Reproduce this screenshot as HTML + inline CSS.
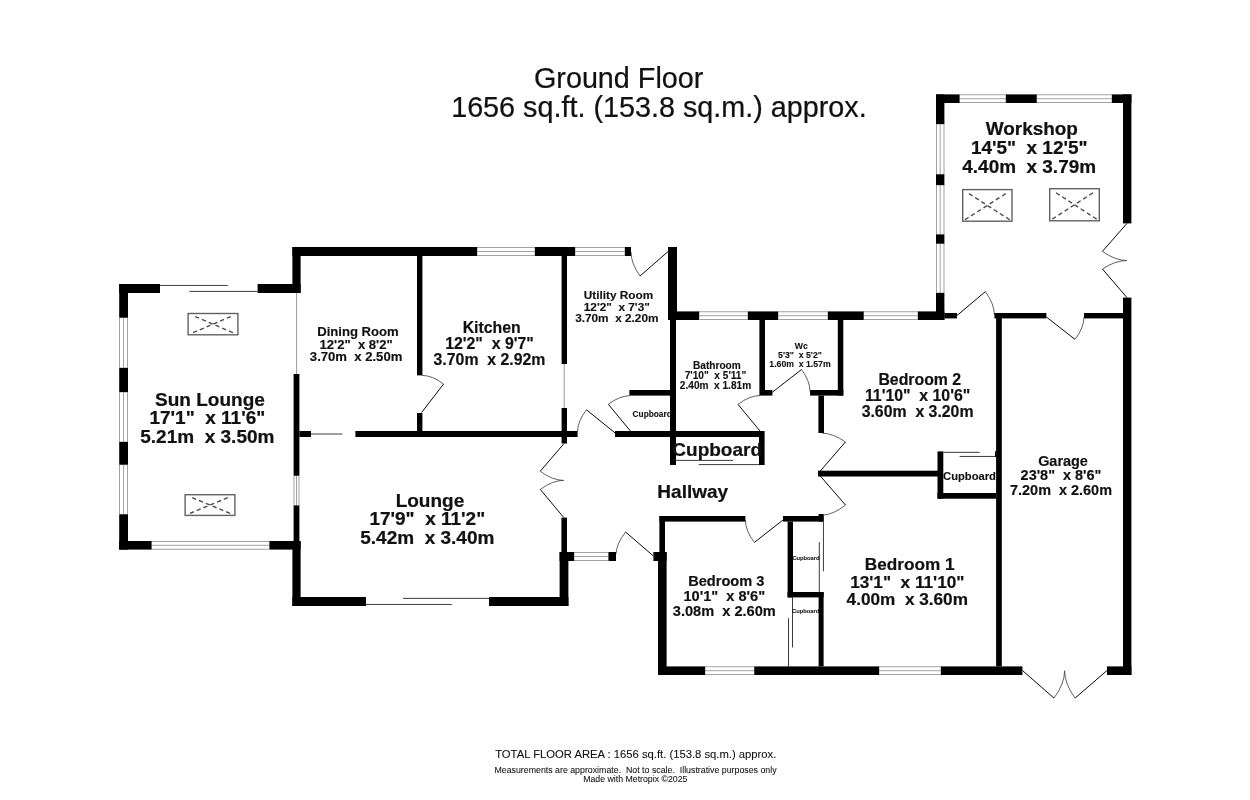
<!DOCTYPE html>
<html lang="en"><head><meta charset="utf-8"><title>Ground Floor - Floor Plan</title>
<style>
html,body{margin:0;padding:0;background:#fff;}
body{width:1250px;height:800px;overflow:hidden;}
svg{display:block;will-change:transform;}
text{font-family:"Liberation Sans",Arial,Helvetica,sans-serif;fill:#111;text-anchor:middle;white-space:pre;}
.w{fill:#000;}
.win{fill:#fff;stroke:#8a8a8a;stroke-width:0.8;}
.wl{stroke:#8a8a8a;stroke-width:0.8;fill:none;}
.t{stroke:#262626;stroke-width:0.9;fill:none;}
.g{stroke:#999;stroke-width:1;fill:none;}
.d{stroke:#0a0a0a;stroke-width:1;fill:none;}
.da{stroke:#444;stroke-width:0.85;fill:none;}
.sk{stroke:#626262;stroke-width:1.4;fill:#fff;}
.skx{stroke:#4c4c4c;stroke-width:1.4;fill:none;stroke-dasharray:4.3 3.05;}
</style></head><body>
<svg width="1250" height="800" viewBox="0 0 1250 800">
<rect x="0" y="0" width="1250" height="800" fill="#fff"/>
<g id="windows">
<rect class="win" x="151.4" y="541.4" width="118.2" height="7.8"/>
<line class="wl" x1="151.4" y1="545.3" x2="269.6" y2="545.3"/>
<rect class="win" x="477" y="247.4" width="58" height="8.2"/>
<line class="wl" x1="477" y1="251.5" x2="535" y2="251.5"/>
<rect class="win" x="575" y="247.4" width="50" height="8.2"/>
<line class="wl" x1="575" y1="251.5" x2="625" y2="251.5"/>
<rect class="win" x="574" y="552.4" width="34.6" height="8.2"/>
<line class="wl" x1="574" y1="556.5" x2="608.6" y2="556.5"/>
<rect class="win" x="699" y="311.8" width="49" height="7.8"/>
<line class="wl" x1="699" y1="315.7" x2="748" y2="315.7"/>
<rect class="win" x="778" y="311.8" width="50" height="7.8"/>
<line class="wl" x1="778" y1="315.7" x2="828" y2="315.7"/>
<rect class="win" x="863.6" y="311.8" width="54.4" height="7.8"/>
<line class="wl" x1="863.6" y1="315.7" x2="918" y2="315.7"/>
<rect class="win" x="705" y="666.8" width="49.4" height="7.8"/>
<line class="wl" x1="705" y1="670.7" x2="754.4" y2="670.7"/>
<rect class="win" x="879" y="666.8" width="62" height="7.8"/>
<line class="wl" x1="879" y1="670.7" x2="941" y2="670.7"/>
<rect class="win" x="959.4" y="94.8" width="46.6" height="7.8"/>
<line class="wl" x1="959.4" y1="98.7" x2="1006" y2="98.7"/>
<rect class="win" x="1036.6" y="94.8" width="75.4" height="7.8"/>
<line class="wl" x1="1036.6" y1="98.7" x2="1112" y2="98.7"/>
<rect class="win" x="119.6" y="317.6" width="8" height="50.4"/>
<line class="wl" x1="123.6" y1="317.6" x2="123.6" y2="368"/>
<rect class="win" x="119.6" y="392" width="8" height="50"/>
<line class="wl" x1="123.6" y1="392" x2="123.6" y2="442"/>
<rect class="win" x="119.6" y="464.6" width="8" height="49.8"/>
<line class="wl" x1="123.6" y1="464.6" x2="123.6" y2="514.4"/>
<rect class="win" x="294" y="475.6" width="5" height="30"/>
<line class="wl" x1="296.5" y1="475.6" x2="296.5" y2="505.6"/>
<rect class="win" x="936.4" y="124" width="7.6" height="50.4"/>
<line class="wl" x1="940.2" y1="124" x2="940.2" y2="174.4"/>
<rect class="win" x="936.4" y="185" width="7.6" height="49.6"/>
<line class="wl" x1="940.2" y1="185" x2="940.2" y2="234.6"/>
<rect class="win" x="936.4" y="243.6" width="7.6" height="49.4"/>
<line class="wl" x1="940.2" y1="243.6" x2="940.2" y2="293"/>
</g>
<g id="lines">
<line class="g" x1="296.6" y1="293" x2="296.6" y2="374"/>
<line class="g" x1="564.2" y1="364" x2="564.2" y2="408"/>
<line class="t" x1="160" y1="285.45" x2="227.8" y2="285.45"/>
<line class="t" x1="189.4" y1="291.4" x2="257.6" y2="291.4"/>
<line class="t" x1="403.1" y1="598.4" x2="489" y2="598.4"/>
<line class="t" x1="366" y1="604.45" x2="451.8" y2="604.45"/>
<line class="t" x1="676" y1="460.4" x2="733" y2="460.4"/>
<line class="t" x1="698.7" y1="464.6" x2="759.3" y2="464.6"/>
<line class="t" x1="943.3" y1="452.35" x2="979.6" y2="452.35"/>
<line class="t" x1="959.6" y1="456.45" x2="996" y2="456.45"/>
<line class="t" x1="823.45" y1="521.6" x2="823.45" y2="571.3"/>
<line class="t" x1="819.3" y1="542.1" x2="819.3" y2="592"/>
<line class="t" x1="792.5" y1="597.4" x2="792.5" y2="647.5"/>
<line class="t" x1="788.5" y1="618.1" x2="788.5" y2="666.4"/>
<line class="t" x1="311" y1="434" x2="342.4" y2="434"/>
</g>
<g id="doors">
<path class="da" d="M443.6 384Q432.41 375.51 422 375.4"/>
<path class="d" d="M421.6 412.5L443.6 384"/>
<path class="da" d="M540.25 471.25Q552.46 480.38 563.75 480.4"/>
<path class="d" d="M563.8 443.8L540.25 471.25"/>
<path class="da" d="M540.25 489.4Q552.49 480.35 563.75 480.4"/>
<path class="d" d="M563.6 517.3L540.25 489.4"/>
<path class="da" d="M586.5 409.8Q578 420.75 577.5 431.2"/>
<path class="d" d="M615.2 433L586.5 409.8"/>
<path class="da" d="M608.3 404.3Q619.54 395.82 630 395.7"/>
<path class="d" d="M630.4 431L608.3 404.3"/>
<path class="da" d="M640 276Q631.13 263.57 631 252"/>
<path class="d" d="M668 251.6L640 276"/>
<path class="da" d="M625.6 532Q616.58 543.22 616 554"/>
<path class="d" d="M653.4 556L625.6 532"/>
<path class="da" d="M738 404.4Q749.44 395.6 760 395.6"/>
<path class="d" d="M760 431L738 404.4"/>
<path class="da" d="M801.5 369.5Q809.9 380.87 810.1 391.5"/>
<path class="d" d="M772.4 392.2L801.5 369.5"/>
<path class="da" d="M845.4 442Q833.4 433.51 822 433"/>
<path class="d" d="M820.3 471L845.4 442"/>
<path class="da" d="M845.5 505Q833.47 514.7 822 515.2"/>
<path class="d" d="M820.3 476L845.5 505"/>
<path class="da" d="M754.4 542.4Q745.4 530.75 745.4 520"/>
<path class="d" d="M783 520L754.4 542.4"/>
<path class="da" d="M985.4 291.6Q994.25 303.71 994.4 315"/>
<path class="d" d="M957 315.5L985.4 291.6"/>
<path class="da" d="M1075 339.4Q1084 327.75 1084 317"/>
<path class="d" d="M1046.4 317L1075 339.4"/>
<path class="da" d="M1102.4 251.4Q1115.19 260.5 1127 260.5"/>
<path class="d" d="M1127 223.4L1102.4 251.4"/>
<path class="da" d="M1102.4 269Q1115.19 260.5 1127 260.5"/>
<path class="d" d="M1127 297.6L1102.4 269"/>
<path class="da" d="M1054 698.1Q1064.48 683.95 1064.6 670.8"/>
<path class="d" d="M1022.3 670.4L1054 698.1"/>
<path class="da" d="M1075.1 698.1Q1064.66 683.93 1064.6 670.8"/>
<path class="d" d="M1106.9 670.6L1075.1 698.1"/>
</g>
<g id="skylights">
<rect class="sk" x="188.1" y="313.5" width="49.8" height="21.3"/>
<line class="skx" x1="195.18" y1="316.53" x2="232.92" y2="332.67"/>
<line class="skx" x1="230.82" y1="316.53" x2="193.08" y2="332.67"/>
<rect class="sk" x="185.1" y="494.7" width="49.8" height="20.7"/>
<line class="skx" x1="192.21" y1="497.66" x2="230.12" y2="513.41"/>
<line class="skx" x1="227.79" y1="497.66" x2="189.88" y2="513.41"/>
<rect class="sk" x="962.7" y="189.6" width="49.3" height="31.6"/>
<line class="skx" x1="969.01" y1="193.65" x2="1009.76" y2="219.77"/>
<line class="skx" x1="1005.69" y1="193.65" x2="964.94" y2="219.77"/>
<rect class="sk" x="1049.7" y="188.7" width="49.6" height="32.1"/>
<line class="skx" x1="1056" y1="192.77" x2="1096.63" y2="219.07"/>
<line class="skx" x1="1093" y1="192.77" x2="1052.37" y2="219.07"/>
</g>
<g id="walls">
<rect class="w" x="119.2" y="284" width="40.8" height="9"/>
<rect class="w" x="257.6" y="284" width="43" height="9"/>
<rect class="w" x="119.2" y="284" width="8.8" height="33.6"/>
<rect class="w" x="119.2" y="368" width="8.8" height="24"/>
<rect class="w" x="119.2" y="442" width="8.8" height="22.6"/>
<rect class="w" x="119.2" y="514.4" width="8.8" height="35.2"/>
<rect class="w" x="119.2" y="541" width="32.2" height="8.6"/>
<rect class="w" x="269.6" y="541" width="31" height="8.6"/>
<rect class="w" x="293.6" y="374" width="5.8" height="101.6"/>
<rect class="w" x="293.6" y="505.6" width="5.8" height="35.4"/>
<rect class="w" x="299.4" y="431" width="11.6" height="6"/>
<rect class="w" x="292.4" y="247" width="184.6" height="9"/>
<rect class="w" x="535" y="247" width="40" height="9"/>
<rect class="w" x="625" y="247" width="6" height="9"/>
<rect class="w" x="292.4" y="247" width="8.2" height="46"/>
<rect class="w" x="668" y="247" width="9" height="73"/>
<rect class="w" x="417" y="256" width="5.4" height="119.4"/>
<rect class="w" x="417" y="413" width="5.4" height="18"/>
<rect class="w" x="561.6" y="256" width="5.4" height="108"/>
<rect class="w" x="561.6" y="408" width="5.4" height="35.5"/>
<rect class="w" x="355.4" y="431" width="222.2" height="6"/>
<rect class="w" x="615" y="431" width="149.6" height="6"/>
<rect class="w" x="292.4" y="541" width="8.2" height="65"/>
<rect class="w" x="292.4" y="597" width="73.6" height="9"/>
<rect class="w" x="489" y="597" width="79.4" height="9"/>
<rect class="w" x="559.6" y="552" width="8.8" height="54"/>
<rect class="w" x="561.4" y="517.6" width="5.6" height="34.4"/>
<rect class="w" x="559.6" y="552" width="14.4" height="9"/>
<rect class="w" x="608.6" y="552" width="7.4" height="9"/>
<rect class="w" x="653.4" y="552" width="13.2" height="9"/>
<rect class="w" x="668" y="311.4" width="31" height="8.6"/>
<rect class="w" x="748" y="311.4" width="30" height="8.6"/>
<rect class="w" x="828" y="311.4" width="35.6" height="8.6"/>
<rect class="w" x="918" y="311.4" width="26.4" height="8.6"/>
<rect class="w" x="944.4" y="313" width="12.6" height="5.4"/>
<rect class="w" x="670" y="320" width="6" height="145"/>
<rect class="w" x="629.4" y="390" width="40.6" height="5.6"/>
<rect class="w" x="759.4" y="320" width="5.6" height="75.6"/>
<rect class="w" x="765" y="390" width="7.4" height="5.6"/>
<rect class="w" x="837.8" y="320" width="5.5" height="75.6"/>
<rect class="w" x="810.1" y="390" width="33.2" height="5.6"/>
<rect class="w" x="818.4" y="395.6" width="5.6" height="37.4"/>
<rect class="w" x="759" y="437" width="5.6" height="28"/>
<rect class="w" x="818" y="470.7" width="120" height="5.8"/>
<rect class="w" x="937.5" y="451.4" width="5.8" height="47.3"/>
<rect class="w" x="937.5" y="493" width="58.5" height="5.7"/>
<rect class="w" x="995" y="451.2" width="1.2" height="5.8"/>
<rect class="w" x="659.4" y="516" width="86" height="5.6"/>
<rect class="w" x="783" y="516" width="40.6" height="5.6"/>
<rect class="w" x="818.6" y="514" width="5" height="7.6"/>
<rect class="w" x="659.4" y="516" width="5.6" height="36"/>
<rect class="w" x="658" y="552" width="8.6" height="123"/>
<rect class="w" x="787.6" y="521.6" width="5.4" height="75.8"/>
<rect class="w" x="787.6" y="592" width="36" height="5.4"/>
<rect class="w" x="818.6" y="592" width="5" height="74.4"/>
<rect class="w" x="658" y="666.4" width="47" height="8.6"/>
<rect class="w" x="754.4" y="666.4" width="124.6" height="8.6"/>
<rect class="w" x="941" y="666.4" width="81.4" height="8.6"/>
<rect class="w" x="1107" y="666.4" width="24.4" height="8.6"/>
<rect class="w" x="996.1" y="313" width="5.7" height="353.4"/>
<rect class="w" x="994.4" y="313" width="52" height="5.4"/>
<rect class="w" x="1084" y="313" width="39" height="5.4"/>
<rect class="w" x="1123" y="297.6" width="8.4" height="377.4"/>
<rect class="w" x="936" y="94.4" width="23.4" height="8.6"/>
<rect class="w" x="1006" y="94.4" width="30.6" height="8.6"/>
<rect class="w" x="1112" y="94.4" width="19.4" height="8.6"/>
<rect class="w" x="936" y="94.4" width="8.4" height="29.6"/>
<rect class="w" x="936" y="174.4" width="8.4" height="10.6"/>
<rect class="w" x="936" y="234.6" width="8.4" height="9"/>
<rect class="w" x="936" y="293" width="8.4" height="27"/>
<rect class="w" x="1123" y="94.4" width="8.4" height="129"/>
</g>
<g id="labels">
<text x="209.99" y="405.7" font-size="19" font-weight="bold" stroke="#111" stroke-width="0.23" xml:space="preserve">Sun Lounge</text>
<text x="207.35" y="424.45" font-size="19" font-weight="bold" stroke="#111" stroke-width="0.23" xml:space="preserve">17'1&quot;  x 11'6&quot;</text>
<text x="207.35" y="443.1" font-size="19" font-weight="bold" stroke="#111" stroke-width="0.23" xml:space="preserve">5.21m  x 3.50m</text>
<text x="357.92" y="335.7" font-size="13.1" font-weight="bold" stroke="#111" stroke-width="0.16" xml:space="preserve">Dining Room</text>
<text x="356.1" y="348.5" font-size="13.1" font-weight="bold" stroke="#111" stroke-width="0.16" xml:space="preserve">12'2&quot;  x 8'2&quot;</text>
<text x="356.1" y="361.4" font-size="13.1" font-weight="bold" stroke="#111" stroke-width="0.16" xml:space="preserve">3.70m  x 2.50m</text>
<text x="491.7" y="333.4" font-size="15.85" font-weight="bold" stroke="#111" stroke-width="0.19" xml:space="preserve">Kitchen</text>
<text x="489.5" y="349.4" font-size="15.85" font-weight="bold" stroke="#111" stroke-width="0.19" xml:space="preserve">12'2&quot;  x 9'7&quot;</text>
<text x="489.5" y="365.4" font-size="15.85" font-weight="bold" stroke="#111" stroke-width="0.19" xml:space="preserve">3.70m  x 2.92m</text>
<text x="618.44" y="299.2" font-size="11.8" font-weight="bold" stroke="#111" stroke-width="0.14" xml:space="preserve">Utility Room</text>
<text x="616.8" y="310.7" font-size="11.8" font-weight="bold" stroke="#111" stroke-width="0.14" xml:space="preserve">12'2&quot;  x 7'3&quot;</text>
<text x="616.8" y="322.2" font-size="11.8" font-weight="bold" stroke="#111" stroke-width="0.14" xml:space="preserve">3.70m  x 2.20m</text>
<text x="716.9" y="369.3" font-size="10.1" font-weight="bold" stroke="#111" stroke-width="0.12" xml:space="preserve">Bathroom</text>
<text x="715.5" y="379.3" font-size="10.1" font-weight="bold" stroke="#111" stroke-width="0.12" xml:space="preserve">7'10&quot;  x 5'11&quot;</text>
<text x="715.5" y="389.3" font-size="10.1" font-weight="bold" stroke="#111" stroke-width="0.12" xml:space="preserve">2.40m  x 1.81m</text>
<text x="801.21" y="349.3" font-size="8.7" font-weight="bold" stroke="#111" stroke-width="0.1" xml:space="preserve">Wc</text>
<text x="800" y="358" font-size="8.7" font-weight="bold" stroke="#111" stroke-width="0.1" xml:space="preserve">5'3&quot;  x 5'2&quot;</text>
<text x="800" y="366.7" font-size="8.7" font-weight="bold" stroke="#111" stroke-width="0.1" xml:space="preserve">1.60m  x 1.57m</text>
<text x="919.8" y="385" font-size="15.85" font-weight="bold" stroke="#111" stroke-width="0.19" xml:space="preserve">Bedroom 2</text>
<text x="917.6" y="401" font-size="15.85" font-weight="bold" stroke="#111" stroke-width="0.19" xml:space="preserve">11'10&quot;  x 10'6&quot;</text>
<text x="917.6" y="417" font-size="15.85" font-weight="bold" stroke="#111" stroke-width="0.19" xml:space="preserve">3.60m  x 3.20m</text>
<text x="969.5" y="479.8" font-size="11.2" font-weight="bold" stroke="#111" stroke-width="0.13" xml:space="preserve">Cupboard</text>
<text x="1063.01" y="465.8" font-size="14.45" font-weight="bold" stroke="#111" stroke-width="0.17" xml:space="preserve">Garage</text>
<text x="1061" y="480.4" font-size="14.45" font-weight="bold" stroke="#111" stroke-width="0.17" xml:space="preserve">23'8&quot;  x 8'6&quot;</text>
<text x="1061" y="494.8" font-size="14.45" font-weight="bold" stroke="#111" stroke-width="0.17" xml:space="preserve">7.20m  x 2.60m</text>
<text x="1031.83" y="135.4" font-size="18.95" font-weight="bold" stroke="#111" stroke-width="0.23" xml:space="preserve">Workshop</text>
<text x="1029.2" y="154.2" font-size="18.95" font-weight="bold" stroke="#111" stroke-width="0.23" xml:space="preserve">14'5&quot;  x 12'5&quot;</text>
<text x="1029.2" y="173" font-size="18.95" font-weight="bold" stroke="#111" stroke-width="0.23" xml:space="preserve">4.40m  x 3.79m</text>
<text x="429.94" y="506.7" font-size="19" font-weight="bold" stroke="#111" stroke-width="0.23" xml:space="preserve">Lounge</text>
<text x="427.3" y="525.4" font-size="19" font-weight="bold" stroke="#111" stroke-width="0.23" xml:space="preserve">17'9&quot;  x 11'2&quot;</text>
<text x="427.3" y="544.2" font-size="19" font-weight="bold" stroke="#111" stroke-width="0.23" xml:space="preserve">5.42m  x 3.40m</text>
<text x="692.75" y="498.4" font-size="19" font-weight="bold" stroke="#111" stroke-width="0.23" xml:space="preserve">Hallway</text>
<text x="717.2" y="456" font-size="19" font-weight="bold" stroke="#111" stroke-width="0.23" xml:space="preserve">Cupboard</text>
<text x="652.2" y="417.2" font-size="8.3" font-weight="bold" stroke="#111" stroke-width="0.1" xml:space="preserve">Cupboard</text>
<text x="726.33" y="586.4" font-size="14.6" font-weight="bold" stroke="#111" stroke-width="0.18" xml:space="preserve">Bedroom 3</text>
<text x="724.3" y="601" font-size="14.6" font-weight="bold" stroke="#111" stroke-width="0.18" xml:space="preserve">10'1&quot;  x 8'6&quot;</text>
<text x="724.3" y="615.8" font-size="14.6" font-weight="bold" stroke="#111" stroke-width="0.18" xml:space="preserve">3.08m  x 2.60m</text>
<text x="806" y="559.6" font-size="5.75" font-weight="bold" stroke="#111" stroke-width="0.07" xml:space="preserve">Cupboard</text>
<text x="805.7" y="612.5" font-size="5.75" font-weight="bold" stroke="#111" stroke-width="0.07" xml:space="preserve">Cupboard</text>
<text x="909.69" y="570.4" font-size="17.2" font-weight="bold" stroke="#111" stroke-width="0.21" xml:space="preserve">Bedroom 1</text>
<text x="907.3" y="587.8" font-size="17.2" font-weight="bold" stroke="#111" stroke-width="0.21" xml:space="preserve">13'1&quot;  x 11'10&quot;</text>
<text x="907.3" y="605.4" font-size="17.2" font-weight="bold" stroke="#111" stroke-width="0.21" xml:space="preserve">4.00m  x 3.60m</text>
<text x="618.65" y="88" font-size="28.75" font-weight="normal" stroke="#111" stroke-width="0.23" xml:space="preserve">Ground Floor</text>
<text x="658.9" y="117.4" font-size="28.75" font-weight="normal" stroke="#111" stroke-width="0.23" xml:space="preserve">1656 sq.ft. (153.8 sq.m.) approx.</text>
<text x="635.8" y="758.4" font-size="11.25" font-weight="normal" stroke="#111" stroke-width="0.09" xml:space="preserve">TOTAL FLOOR AREA : 1656 sq.ft. (153.8 sq.m.) approx.</text>
<text x="635.5" y="772.8" font-size="8.8" font-weight="normal" stroke="#111" stroke-width="0.07" xml:space="preserve">Measurements are approximate.  Not to scale.  Illustrative purposes only</text>
<text x="635.3" y="782.2" font-size="8.76" font-weight="normal" stroke="#111" stroke-width="0.07" xml:space="preserve">Made with Metropix ©2025</text>
</g>
</svg></body></html>
